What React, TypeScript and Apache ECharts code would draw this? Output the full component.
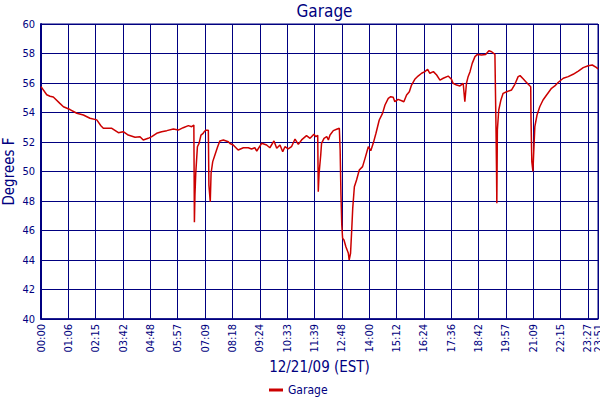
import React, { useEffect, useRef } from "react";
import * as echarts from "echarts";

const title = "Garage";
const yName = "Degrees F";
const xName = "12/21/09 (EST)";
const seriesName = "Garage";

const tickLabels = [
  "00:00", "01:06", "02:15", "03:42", "04:48", "05:57", "07:09", "08:18", "09:24", "10:33",
  "11:39", "12:48", "14:00", "15:12", "16:24", "17:36", "18:42", "19:57", "21:09", "22:15", "23:27",
];
const endLabel = "23:51";
const endPos = 20.37;

// positions in tick units (one unit = one labelled grid column)
const positions = [
  0, 0.21, 0.33, 0.45, 0.69, 0.82, 1.06, 1.31, 1.55, 1.79, 2.04, 2.19, 2.28, 2.59, 2.83, 3.01, 3.19, 3.44,
  3.62, 3.74, 3.92, 4.05, 4.23, 4.41, 4.6, 4.84, 5.02, 5.2, 5.39, 5.51, 5.59, 5.6, 5.61, 5.63, 5.66,
  5.72, 5.78, 5.85, 5.93, 5.97, 6.02, 6.12, 6.14, 6.19, 6.22, 6.28, 6.36, 6.46, 6.54, 6.67, 6.85, 6.91,
  7.03, 7.21, 7.4, 7.58, 7.7, 7.82, 7.89, 8.07, 8.25, 8.37, 8.52, 8.62, 8.74, 8.84, 8.92, 9.04, 9.16,
  9.29, 9.41, 9.53, 9.71, 9.84, 9.98, 10.05, 10.12, 10.14, 10.17, 10.23, 10.26, 10.35, 10.45, 10.51,
  10.57, 10.69, 10.81, 10.91, 10.94, 10.97, 11.0, 11.03, 11.08, 11.15, 11.24, 11.27, 11.32, 11.36,
  11.4, 11.46, 11.54, 11.64, 11.76, 11.85, 11.97, 12.06, 12.15, 12.25, 12.37, 12.49, 12.58, 12.7,
  12.79, 12.88, 12.94, 13.06, 13.19, 13.27, 13.37, 13.47, 13.55, 13.67, 13.79, 13.92, 14.04, 14.14,
  14.22, 14.35, 14.47, 14.59, 14.71, 14.89, 15.01, 15.07, 15.2, 15.32, 15.44, 15.5, 15.56, 15.62,
  15.69, 15.77, 15.87, 15.96, 16.11, 16.26, 16.38, 16.48, 16.6, 16.64, 16.66, 16.67, 16.69, 16.74,
  16.82, 16.9, 17.03, 17.21, 17.33, 17.45, 17.52, 17.64, 17.73, 17.82, 17.91, 17.92, 17.95, 17.99,
  18.02, 18.06, 18.14, 18.24, 18.36, 18.49, 18.67, 18.79, 18.92, 19.1, 19.28, 19.46, 19.65, 19.83,
  20.01, 20.16, 20.32, 20.37,
];
const temps = [
  55.75, 55.2, 55.1, 55.05, 54.62, 54.39, 54.2, 53.95, 53.83, 53.61, 53.5, 53.1, 52.93, 52.93, 52.63,
  52.7, 52.47, 52.32, 52.36, 52.14, 52.25, 52.36, 52.59, 52.7, 52.77, 52.88, 52.81, 52.97, 53.11,
  53.04, 53.15, 49.9, 46.56, 48.4, 49.9, 51.68, 51.91, 52.47, 52.59, 52.7, 52.79, 52.79, 49.08,
  47.95, 49.88, 50.67, 51.12, 51.68, 52.07, 52.14, 52.02, 51.9, 51.8, 51.46, 51.61, 51.61, 51.53,
  51.61, 51.39, 51.91, 51.8, 51.61, 52.07, 51.57, 51.8, 51.34, 51.68, 51.53, 51.68, 52.2, 51.84,
  52.14, 52.43, 52.25, 52.52, 52.36, 52.45, 48.63, 49.88, 51.12, 51.91, 52.25, 52.36, 52.14, 52.47,
  52.77, 52.86, 52.93, 51.46, 48.41, 46.37, 45.47, 45.36, 44.9, 44.45, 44.0, 44.45, 45.92, 47.5,
  48.97, 49.42, 50.1, 50.33, 50.89, 51.68, 51.41, 51.91, 52.59, 53.49, 53.94, 54.51, 54.96, 55.07,
  55.03, 54.73, 54.89, 54.8, 54.73, 55.19, 55.41, 55.86, 56.25, 56.47, 56.66, 56.77, 56.93, 56.66,
  56.77, 56.54, 56.2, 56.32, 56.47, 56.25, 55.98, 55.86, 55.8, 55.98, 54.73, 55.98, 56.43, 56.77,
  57.33, 57.79, 57.94, 57.9, 57.94, 58.19, 58.12, 57.94, 52.93, 49.88, 47.84, 52.81, 54.17, 54.85,
  55.3, 55.41, 55.53, 55.91, 56.43, 56.5, 56.27, 56.09, 55.91, 55.75, 53.6, 50.67, 50.0, 51.34,
  53.04, 53.83, 54.39, 54.85, 55.19, 55.64, 55.8, 56.05, 56.32, 56.43, 56.59, 56.81, 57.04, 57.17,
  57.22, 57.04, 56.95,
];

const NAVY = "#000080";
const RED = "#cc0000";
const FONT = "'DejaVu Sans Condensed', 'DejaVu Sans', sans-serif";

const xLabelValues = tickLabels.map((_, i) => i);
const xLineValues = [...xLabelValues, endPos];

export default function App() {
  const ref = useRef<HTMLDivElement>(null);
  useEffect(() => {
    if (!ref.current) return;
    const chart = echarts.init(ref.current, undefined, { renderer: "svg" });
    const data = positions.map((p, i) => [p, temps[i]]);
    const labelStyle = { rotate: 90, color: NAVY, fontSize: 11, fontFamily: FONT, margin: 5, hideOverlap: false };
    chart.setOption({
      animation: false,
      backgroundColor: "#ffffff",
      textStyle: { fontFamily: FONT },
      title: {
        text: title,
        left: 319.5,
        textAlign: "center",
        top: -3,
        textStyle: { color: NAVY, fontSize: 17, fontWeight: "normal", fontFamily: FONT },
      },
      legend: {
        data: [seriesName],
        left: 264,
        top: 379,
        itemWidth: 14,
        itemHeight: 3,
        itemGap: 4,
        icon: "rect",
        textStyle: { color: NAVY, fontSize: 12, fontFamily: FONT },
      },
      grid: {
        left: 41,
        right: 2,
        top: 24,
        bottom: 81,
        show: true,
        borderColor: NAVY,
        borderWidth: 1,
        containLabel: false,
        outerBoundsMode: "none",
      },
      xAxis: [
        {
          type: "value",
          min: 0,
          max: endPos,
          position: "bottom",
          name: xName,
          nameLocation: "middle",
          nameGap: 40,
          nameMoveOverlap: false,
          nameTextStyle: { color: NAVY, fontSize: 15, fontFamily: FONT },
          axisLine: { show: true, lineStyle: { color: NAVY, width: 1.5 } },
          axisTick: { show: false, customValues: xLineValues },
          splitLine: { show: true, lineStyle: { color: NAVY, width: 1 } },
          axisLabel: {
            ...labelStyle,
            showMinLabel: true,
            showMaxLabel: true,
            customValues: xLabelValues,
            formatter: (v: number) => tickLabels[Math.round(v)] ?? "",
          },
        },
        {
          type: "value",
          min: 0,
          max: endPos,
          position: "bottom",
          axisLine: { show: false },
          axisTick: { show: false, customValues: [endPos] },
          splitLine: { show: false },
          axisLabel: {
            ...labelStyle,
            showMaxLabel: true,
            customValues: [endPos],
            formatter: () => endLabel,
          },
        },
      ],
      yAxis: {
        type: "value",
        min: 40,
        max: 60,
        interval: 2,
        name: yName,
        nameLocation: "middle",
        nameGap: 25,
        nameMoveOverlap: false,
        nameTextStyle: { color: NAVY, fontSize: 15, fontFamily: FONT },
        axisLine: { show: true, lineStyle: { color: NAVY, width: 2 } },
        axisTick: { show: false },
        splitLine: { show: true, lineStyle: { color: NAVY, width: 1 } },
        axisLabel: { color: NAVY, fontSize: 11, fontFamily: FONT, margin: 6 },
      },
      series: [
        {
          name: seriesName,
          type: "line",
          xAxisIndex: 0,
          data,
          showSymbol: false,
          symbol: "none",
          lineStyle: { color: RED, width: 1.5 },
          itemStyle: { color: RED },
        },
      ],
    });
    return () => chart.dispose();
  }, []);
  return <div ref={ref} style={{ width: 600, height: 400, position: "absolute", left: 0, top: 0 }} />;
}
